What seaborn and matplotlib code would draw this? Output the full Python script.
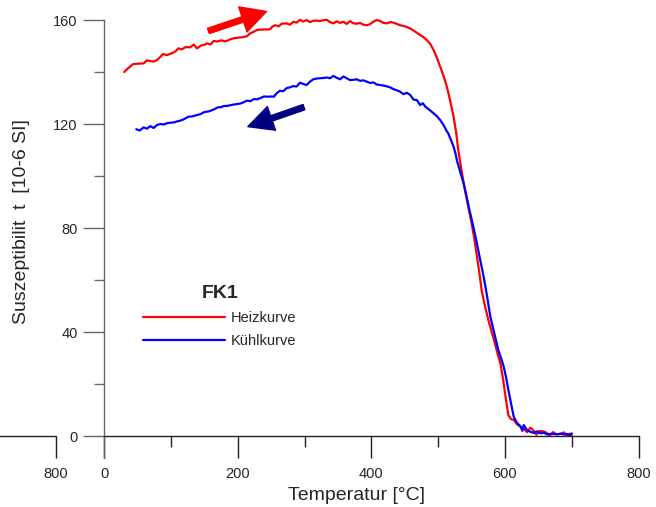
import numpy as np
import pandas as pd
import matplotlib
matplotlib.use("Agg")
import matplotlib.pyplot as plt
from matplotlib.patches import FancyArrowPatch
import seaborn as sns

# ---------------- data ----------------
heat_T = [30, 36, 43, 50, 59, 64, 69, 74, 79, 84, 88, 94, 101, 106, 111, 116, 122, 129, 134, 139,
          145, 150, 154, 159, 164, 169, 175, 180, 184, 189, 194, 200, 207, 214, 218, 223, 229, 236,
          242, 248, 252, 256, 261, 266, 273, 278, 283, 288, 293, 298, 303, 308, 313, 318, 323, 328,
          333, 338, 343, 348, 353, 358, 363, 368, 373, 378, 383, 388, 393, 398, 403, 408, 413, 418,
          423, 428, 433, 438, 443, 450, 458, 465, 473, 478, 483, 488, 493, 498, 503, 508, 513, 518,
          523, 527, 530, 535, 540, 545, 550, 554, 558, 562, 565, 570, 575, 580, 585, 589, 593, 597,
          600, 603, 605, 609, 613, 618, 623, 628, 633, 638, 642, 647, 652, 657, 662, 667, 672, 677,
          683, 688, 693, 697, 700]
heat_S = [140.0, 141.5, 143.0, 143.2, 143.3, 144.5, 144.2, 144.0, 144.6, 145.8, 146.9, 146.5, 147.2,
          147.8, 149.1, 148.7, 149.6, 149.5, 150.6, 149.1, 150.2, 150.5, 151.0, 150.6, 152.0, 151.7,
          152.2, 151.8, 152.0, 152.6, 153.0, 153.2, 153.4, 153.8, 154.8, 155.4, 156.2, 156.3, 156.4,
          156.4, 157.5, 158.0, 157.6, 158.6, 158.7, 158.2, 159.3, 159.0, 160.1, 159.4, 160.0, 159.2,
          159.7, 159.8, 159.6, 159.9, 160.1, 159.2, 158.7, 159.5, 158.9, 159.3, 158.5, 159.6, 158.7,
          158.6, 158.9, 158.2, 158.0, 158.4, 159.4, 160.0, 159.6, 158.9, 158.7, 159.2, 159.0, 158.5,
          158.0, 157.6, 156.8, 155.6, 154.2, 153.4, 152.3, 150.8, 148.5, 145.5, 142.0, 138.5, 134.3,
          128.8, 122.8, 116.5, 110.0, 102.0, 94.6, 88.0, 81.8, 76.0, 69.0, 62.0, 56.0, 50.0, 44.6,
          40.0, 35.6, 31.5, 28.0, 22.0, 16.4, 11.5, 8.0, 6.5, 6.2, 4.5, 3.6, 2.8, 1.5, 3.2, 2.3, 0.5,
          2.0, 1.8, 1.3, 0.2, 1.5, 0.6, 0.8, 1.4, 0.1, 0.9, 0.4]

cool_T = [48, 53, 59, 64, 69, 74, 79, 84, 89, 94, 99, 104, 109, 114, 119, 126, 131, 137, 144, 150,
          157, 164, 170, 175, 179, 185, 192, 199, 204, 209, 214, 219, 224, 229, 234, 239, 244, 249,
          254, 258, 263, 268, 273, 278, 283, 288, 293, 298, 303, 308, 313, 318, 323, 328, 333, 338,
          343, 348, 353, 358, 363, 368, 373, 378, 383, 388, 393, 398, 403, 408, 413, 418, 423, 428,
          433, 438, 443, 448, 453, 458, 463, 468, 473, 477, 481, 485, 489, 493, 498, 503, 508, 512,
          515, 519, 523, 526, 528, 533, 538, 543, 548, 553, 558, 563, 568, 573, 578, 584, 590, 594,
          598, 602, 605, 609, 613, 618, 623, 626, 628, 633, 638, 643, 648, 653, 658, 663, 668, 673,
          678, 683, 688, 693, 697, 700]
cool_S = [118.0, 117.5, 118.7, 118.2, 119.2, 118.5, 119.6, 120.0, 119.8, 120.3, 120.5, 120.6, 121.0,
          121.3, 121.8, 122.8, 122.9, 123.3, 123.8, 124.6, 124.9, 125.6, 126.4, 126.5, 126.9, 127.0,
          127.4, 127.7, 127.9, 128.4, 129.0, 128.8, 129.6, 129.5, 130.0, 130.6, 130.5, 130.6, 130.5,
          131.8, 132.8, 132.6, 133.8, 134.1, 134.6, 134.4, 135.9, 135.4, 135.0, 136.3, 137.2, 137.5,
          137.6, 137.7, 137.9, 137.6, 138.5, 137.8, 137.2, 138.3, 137.6, 136.9, 137.0, 137.2, 136.6,
          136.8, 136.3, 135.8, 136.0, 135.2, 135.0, 134.8, 134.5, 134.1, 133.4, 133.0, 132.4, 131.5,
          132.0, 131.2, 129.4, 129.2, 127.3, 128.0, 126.6, 125.8, 125.0, 124.1, 123.0, 121.5, 119.6,
          117.6, 116.4, 113.8, 111.3, 108.5, 106.0, 101.5, 97.2, 91.5, 85.6, 80.0, 74.0, 67.5, 61.3,
          54.0, 45.9, 39.5, 33.0, 30.0, 26.7, 22.0, 17.7, 12.5, 7.4, 5.0, 3.8, 2.0, 4.2, 2.3, 1.6,
          1.2, 1.8, 1.0, 1.3, 0.6, 0.8, 0.8, 0.7, 0.9, 0.6, 0.8, 0.4, 1.0]

series_names = ["Heizkurve", "Kühlkurve"]
series_colors = ["#ff0000", "#0000ff"]
x_ticks = [-72, 0, 200, 400, 600, 800]
x_ticklabels = ["800", "0", "200", "400", "600", "800"]
x_minor = [100, 300, 500, 700]
y_ticks = [0, 40, 80, 120, 160]
y_minor = [20, 60, 100, 140]

# -------------- figure ---------------
sns.set_style("white")
plt.rcParams["font.family"] = ["Liberation Sans", "DejaVu Sans"]

fig = plt.figure(figsize=(6.56, 5.07), dpi=100)
ax = fig.add_axes([0, 0, 1, 1])
ax.set_facecolor("white")

df = pd.concat([
    pd.DataFrame({"T": heat_T, "S": heat_S, "Kurve": series_names[0]}),
    pd.DataFrame({"T": cool_T, "S": cool_S, "Kurve": series_names[1]}),
])
sns.lineplot(data=df, x="T", y="S", hue="Kurve", palette=dict(zip(series_names, series_colors)),
             sort=False, linewidth=1.6, ax=ax, estimator=None)

ax.set_xlim(-156, 826)
ax.set_ylim(-27.3, 167.7)

for s in ["top", "right"]:
    ax.spines[s].set_visible(False)
ax.spines["bottom"].set_position(("data", 0))
ax.spines["bottom"].set_bounds(0, 800)
ax.spines["bottom"].set_color("#222222")
ax.spines["left"].set_position(("data", 0))
ax.spines["left"].set_bounds(-8.5, 160)
ax.spines["left"].set_color("#666666")
for sp in ax.spines.values():
    sp.set_linewidth(1.0)

# left stray axis segment (as in original)
xl = ax.get_xlim()
ax.axhline(0, xmin=0, xmax=(x_ticks[0] - xl[0]) / (xl[1] - xl[0]), color="#222222", lw=1.0)

ax.set_xticks(x_ticks)
ax.set_xticklabels(x_ticklabels)
ax.set_xticks(x_minor, minor=True)
ax.set_yticks(y_ticks)
ax.set_yticks(y_minor, minor=True)
ax.tick_params(axis="x", which="major", direction="out", length=16, width=1.0, color="#222222",
               labelsize=10.5, pad=6, bottom=True)
ax.tick_params(axis="x", which="minor", direction="out", length=8, width=1.0, color="#222222", bottom=True)
ax.tick_params(axis="y", which="major", direction="out", length=15, width=1.0, color="#666666",
               labelsize=10.5, pad=4, left=True)
ax.tick_params(axis="y", which="minor", direction="out", length=7.5, width=1.0, color="#666666", left=True)

ax.set_xlabel("Temperatur [°C]", fontsize=14)
ax.xaxis.set_label_coords(356 / 656, (507 - 487) / 507)
ax.set_ylabel("Suszeptibilit  t  [10-6 SI]", fontsize=14)
ax.yaxis.set_label_coords(30 / 656, (507 - 222) / 507)

# arrows
arr1 = FancyArrowPatch((156, 155.8), (243, 163.3), arrowstyle="simple,head_length=0.9,head_width=0.95,tail_width=0.2",
                       mutation_scale=20, color="#ff0000", shrinkA=0, shrinkB=0)
arr2 = FancyArrowPatch((299, 126.5), (215, 119.0), arrowstyle="simple,head_length=0.9,head_width=0.9,tail_width=0.2",
                       mutation_scale=20, color="#000080", shrinkA=0, shrinkB=0)
ax.add_patch(arr1)
ax.add_patch(arr2)

leg = ax.legend(title="FK1", loc="upper left", bbox_to_anchor=(143 / 656, 1 - 285 / 507),
                bbox_transform=fig.transFigure, frameon=False, fontsize=10.5,
                handlelength=5.6, handletextpad=0.45, labelspacing=0.62, borderpad=0,
                borderaxespad=0, title_fontproperties={"weight": "bold", "size": 14})

fig.savefig("out.png", dpi=100)
